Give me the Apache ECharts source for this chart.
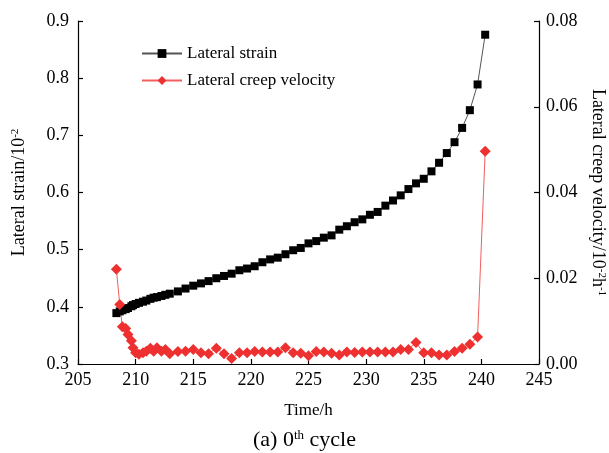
<!DOCTYPE html>
<html>
<head>
<meta charset="utf-8">
<script src="https://cdn.jsdelivr.net/npm/echarts@6/dist/echarts.min.js"></script>
<style>
html,body{margin:0;padding:0;background:#fff;}
#chart{width:609px;height:453px;}
</style>
</head>
<body>
<div id="chart"></div>
<script>
var timeH = [208.33, 208.62, 208.85, 209.14, 209.34, 209.63, 209.77, 210.0, 210.29, 210.64, 210.93, 211.28, 211.57, 211.85, 212.24, 212.58, 212.96,
  213.67, 214.33, 215.0, 215.67, 216.33, 217.0, 217.67, 218.33, 219.0, 219.67, 220.33, 221.0, 221.67, 222.33, 223.0, 223.67, 224.33, 225.0, 225.67, 226.33,
  227.0, 227.67, 228.33, 229.0, 229.67, 230.33, 231.0, 231.67, 232.33, 233.0, 233.67, 234.33, 235.0, 235.67, 236.33, 237.0, 237.67, 238.33, 239.0, 239.67, 240.33];
var lateralStrain = [0.389, 0.392, 0.394, 0.396, 0.398, 0.401, 0.403, 0.405, 0.407, 0.409, 0.411, 0.414, 0.416, 0.417, 0.419, 0.421, 0.423,
  0.427, 0.432, 0.437, 0.441, 0.445, 0.450, 0.454, 0.458, 0.464, 0.467, 0.471, 0.478, 0.483, 0.486, 0.492, 0.499, 0.503, 0.511, 0.515, 0.521,
  0.525, 0.535, 0.541, 0.548, 0.553, 0.561, 0.566, 0.577, 0.586, 0.595, 0.606, 0.616, 0.624, 0.637, 0.652, 0.669, 0.688, 0.713, 0.744, 0.789, 0.876];
var creepVelocity = [0.0221, 0.0139, 0.0087, 0.0083, 0.0069, 0.0054, 0.0038, 0.0026, 0.0023, 0.0026, 0.0030, 0.0037, 0.0030, 0.0038, 0.0030, 0.0034, 0.0024,
  0.0029, 0.0030, 0.0034, 0.0026, 0.0024, 0.0037, 0.0024, 0.0013, 0.0026, 0.0026, 0.0029, 0.0028, 0.0028, 0.0028, 0.0038, 0.0026, 0.0025, 0.0019, 0.0029, 0.0028,
  0.0025, 0.0021, 0.0028, 0.0027, 0.0028, 0.0028, 0.0028, 0.0028, 0.0028, 0.0034, 0.0034, 0.0050, 0.0026, 0.0026, 0.0021, 0.0021, 0.0029, 0.0037, 0.0046, 0.0063, 0.0496];
var xTicks = {min: 205, max: 245, interval: 5};
var leftTicks = {min: 0.3, max: 0.9, interval: 0.1};
var rightTicks = {min: 0, max: 0.08, interval: 0.02};

var FONT = 'Liberation Serif';
var chart = echarts.init(document.getElementById('chart'), null, {renderer: 'canvas'});
var strainData = timeH.map(function (t, i) { return [t, lateralStrain[i]]; });
var velData = timeH.map(function (t, i) { return [t, creepVelocity[i]]; });
var axisLineStyle = {show: true, lineStyle: {color: '#000', width: 1.2}};
var tickStyle = {show: true, inside: true, length: 5, lineStyle: {color: '#000', width: 1.2}};
chart.setOption({
  animation: false,
  backgroundColor: '#fff',
  grid: {left: 78, right: 70, top: 21, bottom: 89, containLabel: false, outerBoundsMode: 'none'},
  title: {
    text: '{n|(a) 0}{s|th}{n| cycle}',
    left: 'center', top: 424,
    textStyle: {fontWeight: 'normal', rich: {
      n: {fontFamily: FONT, fontSize: 22, color: '#000', fontWeight: 'normal'},
      s: {fontFamily: FONT, fontSize: 13, color: '#000', fontWeight: 'normal', verticalAlign: 'top', padding: [0, 0, 9, 0]}
    }}
  },
  legend: {
    left: 136, top: 40, orient: 'vertical', itemGap: 10,
    itemWidth: 40, itemHeight: 11,
    textStyle: {fontFamily: FONT, fontSize: 17, color: '#000'},
    data: ['Lateral strain', 'Lateral creep velocity']
  },
  xAxis: {
    type: 'value', min: xTicks.min, max: xTicks.max, interval: xTicks.interval,
    name: 'Time/h', nameLocation: 'middle', nameGap: 38,
    nameTextStyle: {fontFamily: FONT, fontSize: 17, color: '#000'},
    axisLine: axisLineStyle, axisTick: tickStyle,
    axisLabel: {fontFamily: FONT, fontSize: 18, color: '#000', margin: 7},
    splitLine: {show: false}
  },
  yAxis: [{
    type: 'value', min: leftTicks.min, max: leftTicks.max, interval: leftTicks.interval,
    position: 'left',
    name: '{n|Lateral strain/10}{s|-2}', nameLocation: 'middle', nameGap: 49, nameRotate: 90,
    nameTextStyle: {rich: {
      n: {fontFamily: FONT, fontSize: 18, color: '#000'},
      s: {fontFamily: FONT, fontSize: 11, color: '#000', verticalAlign: 'top', padding: [0, 0, 8, 0]}
    }},
    axisLine: axisLineStyle, axisTick: tickStyle,
    axisLabel: {fontFamily: FONT, fontSize: 18, color: '#000', margin: 9,
      formatter: function (v) { return v.toFixed(1); }},
    splitLine: {show: false}
  }, {
    type: 'value', min: rightTicks.min, max: rightTicks.max, interval: rightTicks.interval,
    position: 'right',
    name: '{n|Lateral creep velocity/10}{s|-2}{n|h}{s|-1}', nameLocation: 'middle', nameGap: 49, nameRotate: -90,
    nameTextStyle: {rich: {
      n: {fontFamily: FONT, fontSize: 18, color: '#000'},
      s: {fontFamily: FONT, fontSize: 11, color: '#000', verticalAlign: 'top', padding: [0, 0, 8, 0]}
    }},
    axisLine: axisLineStyle, axisTick: tickStyle,
    axisLabel: {fontFamily: FONT, fontSize: 18, color: '#000', margin: 7,
      formatter: function (v) { return v.toFixed(2); }},
    splitLine: {show: false}
  }],
  series: [{
    name: 'Lateral strain', type: 'line', yAxisIndex: 0, data: strainData,
    symbol: 'rect', symbolSize: 8,
    itemStyle: {color: '#000'},
    lineStyle: {color: '#555', width: 1}
  }, {
    name: 'Lateral creep velocity', type: 'line', yAxisIndex: 1, data: velData,
    symbol: 'diamond', symbolSize: 11,
    itemStyle: {color: '#ee3030'},
    lineStyle: {color: '#f06060', width: 1}
  }]
});
</script>
</body>
</html>
